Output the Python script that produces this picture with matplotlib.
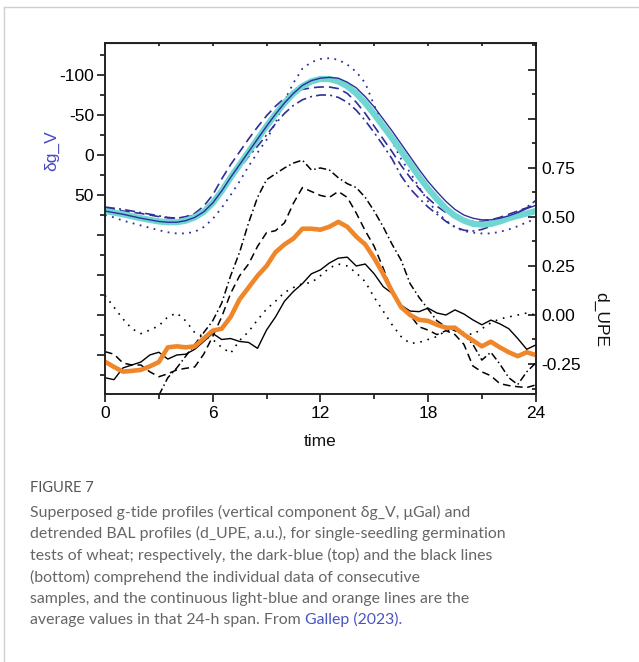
import numpy as np
import matplotlib
matplotlib.use("Agg")
import matplotlib.pyplot as plt
from matplotlib.ticker import MultipleLocator, FuncFormatter
from matplotlib.lines import Line2D

plt.rcParams['font.family'] = ['Liberation Sans', 'DejaVu Sans']
plt.rcParams['axes.unicode_minus'] = False

# common half-hour time grid (h)
t_half = np.arange(0, 24.5, 0.5)

# --- g-tide profiles (delta g_V, uGal) ---
g_mean = [70, 72, 74, 76.5, 79, 81, 83, 84, 84, 82, 78, 71, 60, 45, 28, 12, -4, -20, -36, -51,
          -65, -77, -86, -92, -95, -95, -92, -86, -77, -65, -51, -36, -21, -5, 11, 27, 42, 55, 67, 76,
          82, 86, 87, 86, 83, 79, 76, 73, 70]
g_solid = [70, 72, 74, 76.5, 79, 81, 83, 84, 84, 82, 78, 71, 60, 45, 28, 12, -4, -20, -36, -51,
           -65, -77, -87, -93, -96, -97, -96, -91, -84, -73, -60, -45, -30, -14, 2, 18, 33, 46, 58, 68,
           75, 79, 81, 81, 79, 76, 72, 67, 63]
g_dashed = [66, 68, 70, 71.5, 73, 75, 77, 78.5, 79, 77, 73, 64, 50, 30, 12, -4, -20, -35, -49, -61,
            -71, -78, -82, -84, -85, -85, -83, -77, -66, -52, -36, -20, -4, 13, 28, 42, 54, 64, 72, 78,
            82, 83, 83, 81, 78, 74, 70, 66, 62]
g_dashdot = [65, 66.5, 68, 70, 72, 74, 76, 78, 79, 78, 75, 69, 59, 46, 31, 16, 2, -11, -25, -39,
             -52, -62, -69, -73, -75, -75, -72, -66, -56, -43, -28, -12, 5, 26, 42, 54, 65, 74, 83, 90,
             94, 95, 93, 89, 84, 78, 72, 65, 57]
g_dotted = [75, 78, 82, 85, 88, 91, 94, 96.5, 98, 98, 96, 90, 80, 66, 50, 33, 14, -3, -19, -40,
            -68, -90, -108, -116, -120, -121, -119, -113, -104, -90, -62, -38, -17, 5, 22, 40, 58, 71, 82, 90,
            95, 97, 98, 98, 96, 93, 89, 84, 80]

# --- detrended BAL profiles (d_UPE, a.u.) ---
upe_mean = [-0.238, -0.265, -0.289, -0.285, -0.28, -0.262, -0.24, -0.165, -0.16, -0.165,
            -0.16, -0.12, -0.08, -0.07, -0.01, 0.08, 0.14, 0.2, 0.25, 0.32,
            0.36, 0.39, 0.44, 0.44, 0.435, 0.45, 0.475, 0.45, 0.40, 0.36,
            0.29, 0.21, 0.12, 0.04, 0.0, -0.025, -0.03, -0.05, -0.065, -0.065,
            -0.1, -0.13, -0.16, -0.136, -0.165, -0.19, -0.21, -0.19, -0.204]
upe_solid = [-0.32, -0.33, -0.27, -0.255, -0.24, -0.204, -0.19, -0.225, -0.204, -0.2,
             -0.175, -0.135, -0.094, -0.125, -0.12, -0.135, -0.14, -0.17, -0.077, -0.01,
             0.07, 0.12, 0.16, 0.21, 0.23, 0.265, 0.29, 0.295, 0.25, 0.26,
             0.21, 0.145, 0.11, 0.05, 0.02, 0.017, 0.035, 0.01, 0.0, 0.026,
             0.005, -0.025, -0.05, -0.026, -0.045, -0.07, -0.12, -0.175, -0.153]
upe_dashed = [-0.187, -0.2, -0.245, -0.255, -0.255, -0.29, -0.315, -0.3, -0.28, -0.272,
              -0.265, -0.2, -0.11, -0.01, 0.11, 0.2, 0.26, 0.35, 0.42, 0.43,
              0.47, 0.57, 0.65, 0.63, 0.61, 0.60, 0.63, 0.6, 0.52, 0.43,
              0.35, 0.24, 0.12, 0.05, 0.0, -0.06, -0.077, -0.1, -0.08, -0.1,
              -0.15, -0.26, -0.29, -0.31, -0.35, -0.36, -0.366, -0.37, -0.357]
upe_dotted = [0.10, 0.04, -0.02, -0.07, -0.095, -0.077, -0.055, -0.01, 0.01, -0.03,
              -0.09, -0.11, -0.125, -0.165, -0.195, -0.13, -0.085, -0.025, 0.03, 0.07,
              0.115, 0.14, 0.16, 0.165, 0.2, 0.24, 0.26, 0.25, 0.215, 0.17,
              0.09, 0.02, -0.05, -0.11, -0.145, -0.14, -0.125, -0.11, -0.08, -0.08,
              -0.09, -0.1, -0.07, -0.04, -0.02, -0.01, 0.0, 0.01, 0.0]
nan = np.nan
upe_dashdot = [nan, nan, nan, nan, nan, nan, -0.41, -0.32, -0.27, -0.21,
               -0.15, -0.09, -0.03, 0.06, 0.2, 0.32, 0.47, 0.6, 0.69, 0.72,
               0.75, 0.775, 0.79, 0.74, 0.75, 0.74, 0.70, 0.67, 0.65, 0.6,
               0.53, 0.45, 0.36, 0.28, 0.16, 0.09, 0.03, -0.03, -0.06, -0.08,
               -0.1, -0.15, -0.23, -0.19, -0.25, -0.32, -0.355, -0.29, -0.245]

caption_lines = [
    "Superposed g-tide profiles (vertical component \u03b4g_V, \u03bcGal) and",
    "detrended BAL profiles (d_UPE, a.u.), for single-seedling germination",
    "tests of wheat; respectively, the dark-blue (top) and the black lines",
    "(bottom) comprehend the individual data of consecutive",
    "samples, and the continuous light-blue and orange lines are the",
    "average values in that 24-h span. From ",
]

W, H = 639, 662
DARK_BLUE = '#2e2e9a'
CYAN = '#6fd6d2'
ORANGE = '#f0862a'
CAP_GRAY = '#666666'


def fx(px):
    return px / W


def fy(py):
    return 1 - py / H


fig = plt.figure(figsize=(W / 100, H / 100), dpi=100)
ax = fig.add_axes([fx(105), fy(393.5), (535.7 - 105) / W, (393.5 - 43.3) / H])
ax2 = ax.twinx()

# gray frame of the figure panel
fig.add_artist(Line2D([fx(4), fx(4)], [fy(7), 0], color='#cfcfcf', lw=1))
fig.add_artist(Line2D([fx(4), 1], [fy(7), fy(7)], color='#cfcfcf', lw=1))

# blue g-tide curves (left axis, inverted)
ax.plot(t_half, g_dotted, color=DARK_BLUE, lw=1.3, ls=(0, (1, 3)))
ax.plot(t_half, g_dashdot, color=DARK_BLUE, lw=1.2, ls=(0, (6, 2.5, 1.2, 2.5)))
ax.plot(t_half, g_dashed, color=DARK_BLUE, lw=1.2, ls=(0, (6, 3)))
ax.plot(t_half, g_mean, color=CYAN, lw=4.5, solid_capstyle='round')
ax.plot(t_half, g_solid, color=DARK_BLUE, lw=1.0)

ax.set_xlim(0, 24)
ax.set_ylim(298, -139.6)

# black UPE curves (right axis)
ax2.plot(t_half, upe_dotted, color='black', lw=1.2, ls=(0, (1, 3.5)))
ax2.plot(t_half, upe_dashdot, color='black', lw=1.1, ls=(0, (5, 2, 1, 2)))
ax2.plot(t_half, upe_dashed, color='black', lw=1.1, ls=(0, (5, 3)))
ax2.plot(t_half, upe_solid, color='black', lw=1.0)
ax2.plot(t_half, upe_mean, color=ORANGE, lw=3.3)
ax2.set_ylim(-0.4005, 1.386)

# ticks
ax.xaxis.set_major_locator(MultipleLocator(6))
ax.xaxis.set_minor_locator(MultipleLocator(3))
ax.yaxis.set_major_locator(MultipleLocator(50))
ax.yaxis.set_minor_locator(MultipleLocator(25))
ax.yaxis.set_major_formatter(FuncFormatter(lambda v, p: f"{v:.0f}" if -100 <= v <= 50 else ""))
ax.tick_params(axis='x', which='major', direction='out', length=6, width=1.1, labelsize=12.5, pad=3)
ax.tick_params(axis='x', which='minor', direction='out', length=3.5, width=1.1)
ax.tick_params(axis='y', which='major', direction='out', length=6, width=1.1, labelsize=12.5, pad=2)
ax.tick_params(axis='y', which='minor', direction='out', length=3.5, width=1.1)

ax2.yaxis.set_major_locator(MultipleLocator(0.25))
ax2.yaxis.set_minor_locator(MultipleLocator(0.125))
ax2.yaxis.set_major_formatter(FuncFormatter(lambda v, p: f"{v:.2f}" if -0.26 <= v <= 0.76 else ""))
ax2.tick_params(axis='y', which='major', direction='in', length=6, width=1.1, labelsize=12.5, pad=4)
ax2.tick_params(axis='y', which='minor', direction='in', length=3, width=1.1)

top = ax.secondary_xaxis('top')
top.set_xticks(np.arange(0, 25, 3))
top.tick_params(direction='in', length=2.5, width=1.1, labeltop=False)

for a in (ax, ax2):
    for s in a.spines.values():
        s.set_linewidth(1.2)
        s.set_color('#222222')

# axis titles
fig.text(fx(52), fy(151), "\u03b4g_V", rotation=90, ha='center', va='center', fontsize=12.5, color='#4848c4')
fig.text(fx(320), fy(442), "time", ha='center', va='center', fontsize=12.5, color='#111111')
fig.text(fx(601), fy(320), "d_UPE", rotation=270, ha='center', va='center', fontsize=12.5, color='#111111')

# caption
cap_font = ['Lato', 'DejaVu Sans']
fig.text(fx(30), fy(488), "FIGURE 7", ha='left', va='center', fontsize=10.5, color='#555555', family=cap_font)
line_y = [512, 533.5, 555, 577, 598.5, 620]
last = None
for txt, yy in zip(caption_lines, line_y):
    last = fig.text(fx(30), fy(yy), txt, ha='left', va='center', fontsize=11.4, color=CAP_GRAY, family=cap_font)
ref = fig.text(0, 0, "Gallep (2023).", fontsize=11.4, color='#4a55c2', family=cap_font, ha='left')
# place the reference right after the last caption line
fig.canvas.draw()
bb = last.get_window_extent()
ref.set_transform(None)
ref.set_position((bb.x1, bb.y0))
ref.set_va('bottom')

fig.savefig('out.png', dpi=100)
